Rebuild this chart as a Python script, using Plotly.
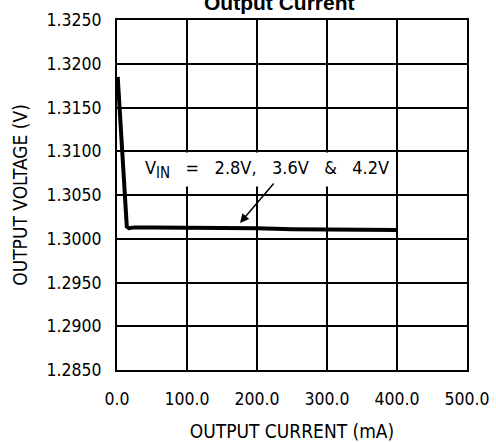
import plotly.graph_objects as go

current_ma = [1, 14, 17, 25, 50, 100, 150, 200, 250, 300, 350, 400]
voltage_v = [1.3185, 1.3014, 1.3012, 1.3013, 1.3013, 1.3013, 1.3012, 1.3012, 1.3011, 1.3011, 1.3010, 1.3010]

x_ticks = [0, 100, 200, 300, 400, 500]
x_tick_labels = ["0.0", "100.0", "200.0", "300.0", "400.0", "500.0"]
y_ticks = [1.2850, 1.2900, 1.2950, 1.3000, 1.3050, 1.3100, 1.3150, 1.3200, 1.3250]
y_tick_labels = ["1.2850", "1.2900", "1.2950", "1.3000", "1.3050", "1.3100", "1.3150", "1.3200", "1.3250"]

label_font = "DejaVu Sans Condensed, DejaVu Sans"
NB = "\u00a0"

fig = go.Figure()
fig.add_trace(go.Scatter(x=current_ma, y=voltage_v, mode="lines",
                         line=dict(color="black", width=4), showlegend=False))

axis_common = dict(showgrid=True, gridcolor="black", gridwidth=1.5,
                   showline=True, linecolor="black", linewidth=2, mirror=True,
                   zeroline=False, ticks="", automargin=False,
                   tickfont=dict(family=label_font, size=17.5, color="black"))

fig.update_xaxes(range=[0, 500], tickvals=x_ticks, ticktext=x_tick_labels,
                 ticklabelstandoff=12,
                 title=dict(text="OUTPUT CURRENT (mA)", font=dict(family=label_font, size=19, color="black"),
                            standoff=18),
                 **axis_common)
fig.update_yaxes(range=[1.2850, 1.3250], tickvals=y_ticks, ticktext=y_tick_labels,
                 ticklabelstandoff=10,
                 title=dict(text="OUTPUT VOLTAGE (V)", font=dict(family=label_font, size=19, color="black"),
                            standoff=14),
                 **axis_common)

label_text = ("V<sub><span style='font-size:15px;color:black'>IN</span></sub>" + NB * 3 + "=" + NB * 3 +
              "2.8V," + NB * 3 + "3.6V" + NB * 3 + "&" + NB * 3 + "4.2V")
fig.add_annotation(x=214, y=1.30786, xref="x", yref="y",
                   text=label_text, showarrow=False,
                   font=dict(family=label_font, size=18, color="black"),
                   bgcolor="white", borderpad=4)
fig.add_annotation(x=175.7, y=1.3018, xref="x", yref="y", text="",
                   showarrow=True, ax=35, ay=-41, arrowhead=2, arrowsize=1.2,
                   arrowwidth=1.5, arrowcolor="black")

fig.add_annotation(x=0.463, y=1.0, xref="paper", yref="paper", yshift=4,
                   text="Output Current", showarrow=False, yanchor="bottom",
                   font=dict(family="Liberation Sans, Arial", size=21, color="black", weight="bold"))

fig.update_layout(width=496, height=442, margin=dict(l=117, r=29, t=20, b=72),
                  plot_bgcolor="white", paper_bgcolor="white")

fig.write_html("out.html", config={"displayModeBar": False},
               post_script="document.body.style.margin='0px';")
